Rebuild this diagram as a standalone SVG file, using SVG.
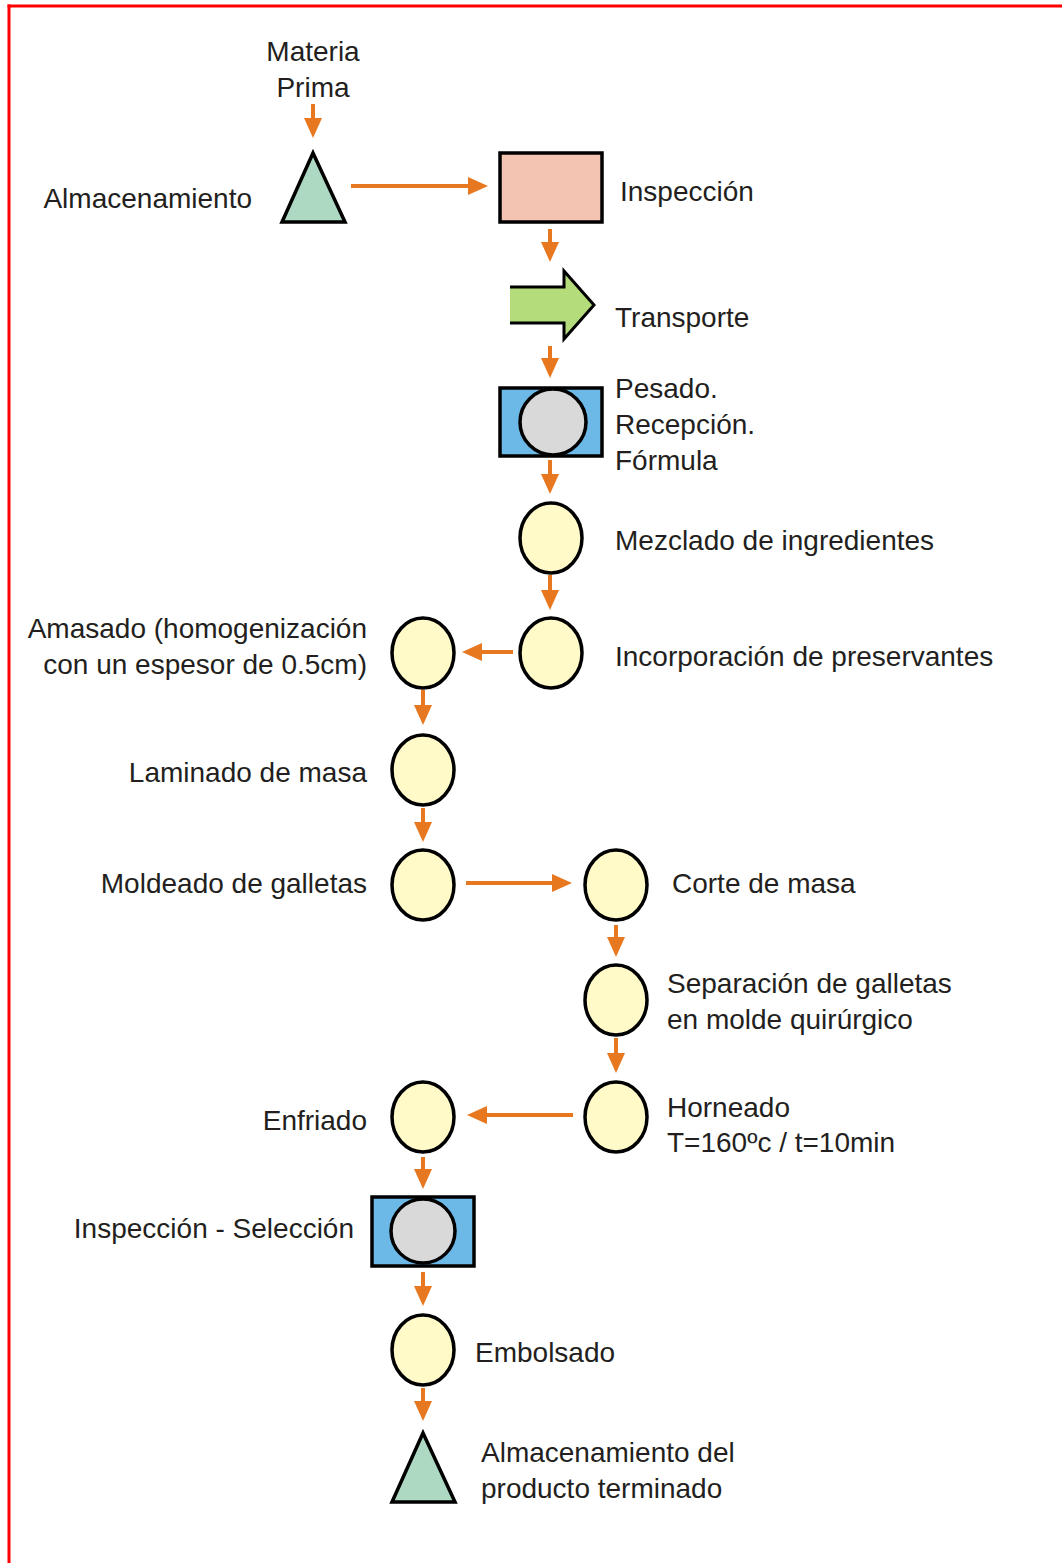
<svg xmlns="http://www.w3.org/2000/svg" width="1062" height="1563" viewBox="0 0 1062 1563">
<defs>
<marker id="ah" markerUnits="userSpaceOnUse" markerWidth="20" markerHeight="18" refX="10" refY="9" orient="auto">
<path d="M0,0 L20,9 L0,18 z" fill="#E8781F"/>
</marker>
</defs>
<style>
text{font-family:"Liberation Sans",Arial,sans-serif;font-size:28px;fill:#231F20}
.r{text-anchor:end}
.m{text-anchor:middle}
.op{fill:#FFFAC8;stroke:#000;stroke-width:3.5}
.tri{fill:#ADD9C3;stroke:#000;stroke-width:3.5;stroke-linejoin:miter}
.ins{fill:#6CB9E8;stroke:#000;stroke-width:3.5}
.gc{fill:#D9D9D9;stroke:#000;stroke-width:3.5}
.c{stroke:#E8781F;stroke-width:4;fill:none;marker-end:url(#ah)}
</style>
<rect width="1062" height="1563" fill="#fff"/>
<g id="frame" stroke="#FF0000" stroke-width="3" fill="none">
<line x1="7.5" y1="6" x2="1062" y2="6"/>
<line x1="9" y1="4.5" x2="9" y2="1563"/>
</g>
<g id="connectors">
<line class="c" x1="313" y1="104" x2="313" y2="128"/>
<line class="c" x1="351" y1="186" x2="478" y2="186"/>
<line class="c" x1="550" y1="229" x2="550" y2="252"/>
<line class="c" x1="550" y1="346" x2="550" y2="368"/>
<line class="c" x1="550" y1="460" x2="550" y2="484"/>
<line class="c" x1="550" y1="575" x2="550" y2="600"/>
<line class="c" x1="513" y1="652" x2="472" y2="652"/>
<line class="c" x1="423" y1="690" x2="423" y2="715"/>
<line class="c" x1="423" y1="808" x2="423" y2="832"/>
<line class="c" x1="466" y1="883" x2="562" y2="883"/>
<line class="c" x1="616" y1="925" x2="616" y2="947"/>
<line class="c" x1="616" y1="1038" x2="616" y2="1063"/>
<line class="c" x1="573" y1="1115" x2="477" y2="1115"/>
<line class="c" x1="423" y1="1157" x2="423" y2="1179"/>
<line class="c" x1="423" y1="1272" x2="423" y2="1296"/>
<line class="c" x1="423" y1="1388" x2="423" y2="1411"/>
</g>
<g id="materia-prima">
<text class="m" x="313" y="61">Materia</text>
<text class="m" x="313" y="97">Prima</text>
</g>
<g id="almacenamiento">
<polygon class="tri" points="313,153 282,222 345,222"/>
<text class="r" x="252" y="208">Almacenamiento</text>
</g>
<g id="inspeccion">
<rect x="500" y="153" width="102" height="69" fill="#F4C4B2" stroke="#000" stroke-width="3.5"/>
<text x="620" y="201">Inspección</text>
</g>
<g id="transporte">
<polygon points="510,287 564,287 564,271 594,305 564,339 564,323 510,323" fill="#B5DC7B"/>
<polyline points="510,287 564,287 564,271 594,305 564,339 564,323 510,323" fill="none" stroke="#000" stroke-width="3"/>
<text x="615" y="327">Transporte</text>
</g>
<g id="pesado">
<rect class="ins" x="500" y="388" width="102" height="68"/>
<circle class="gc" cx="553" cy="422" r="33"/>
<text x="615" y="398">Pesado.</text>
<text x="615" y="434">Recepción.</text>
<text x="615" y="470">Fórmula</text>
</g>
<g id="mezclado">
<ellipse class="op" cx="551" cy="538" rx="31" ry="35"/>
<text x="615" y="550">Mezclado de ingredientes</text>
</g>
<g id="incorporacion">
<ellipse class="op" cx="551" cy="653" rx="31" ry="35"/>
<text x="615" y="666">Incorporación de preservantes</text>
</g>
<g id="amasado">
<ellipse class="op" cx="423" cy="653" rx="31" ry="35"/>
<text class="r" x="367" y="638">Amasado (homogenización</text>
<text class="r" x="367" y="674">con un espesor de 0.5cm)</text>
</g>
<g id="laminado">
<ellipse class="op" cx="423" cy="770" rx="31" ry="35"/>
<text class="r" x="367" y="782">Laminado de masa</text>
</g>
<g id="moldeado">
<ellipse class="op" cx="423" cy="885" rx="31" ry="35"/>
<text class="r" x="367" y="893">Moldeado de galletas</text>
</g>
<g id="corte">
<ellipse class="op" cx="616" cy="885" rx="31" ry="35"/>
<text x="672" y="893">Corte de masa</text>
</g>
<g id="separacion">
<ellipse class="op" cx="616" cy="1000" rx="31" ry="35"/>
<text x="667" y="993">Separación de galletas</text>
<text x="667" y="1029">en molde quirúrgico</text>
</g>
<g id="horneado">
<ellipse class="op" cx="616" cy="1117" rx="31" ry="35"/>
<text x="667" y="1117">Horneado</text>
<text x="667" y="1152">T=160ºc / t=10min</text>
</g>
<g id="enfriado">
<ellipse class="op" cx="423" cy="1117" rx="31" ry="35"/>
<text class="r" x="367" y="1130">Enfriado</text>
</g>
<g id="inspeccion-seleccion">
<rect class="ins" x="372" y="1197" width="102" height="69"/>
<circle class="gc" cx="423" cy="1231" r="32"/>
<text class="r" x="354" y="1238">Inspección - Selección</text>
</g>
<g id="embolsado">
<ellipse class="op" cx="423" cy="1350" rx="31" ry="35"/>
<text x="475" y="1362">Embolsado</text>
</g>
<g id="almacenamiento-final">
<polygon class="tri" points="423,1433 392,1502 455,1502"/>
<text x="481" y="1462">Almacenamiento del</text>
<text x="481" y="1498">producto terminado</text>
</g>
</svg>
